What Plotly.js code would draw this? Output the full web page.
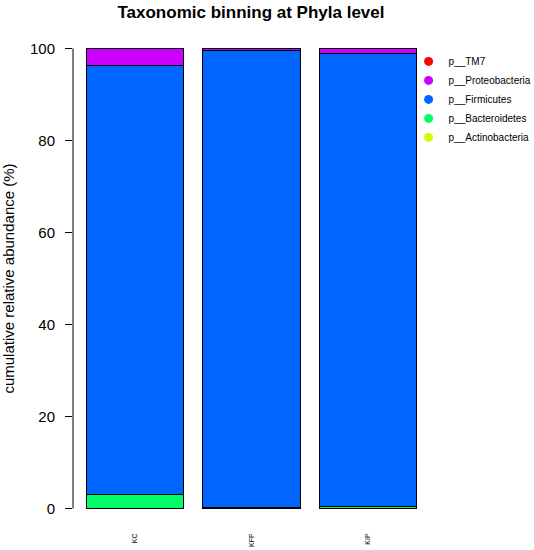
<!DOCTYPE html>
<html>
<head>
<meta charset="utf-8">
<script src="https://cdn.plot.ly/plotly-3.0.1.min.js"></script>
<style>
  html, body { margin: 0; padding: 0; background: #fff; }
  #grafik { width: 534px; height: 550px; }
</style>
</head>
<body>
<div id="grafik"></div>
<script>
// samples and phyla
const samples = ["KC", "KFP", "KIP"];
const phyla = ["p__Actinobacteria", "p__Bacteroidetes", "p__Firmicutes", "p__Proteobacteria", "p__TM7"];
const colours = ["#CCFF00", "#00FF66", "#0066FF", "#CC00FF", "#FF0000"];

// relative abundance (%) per sample, one array per phylum
const actinobacteria = [0.1, 0.1, 0.1];
const bacteroidetes = [2.9, 0.2, 0.3];
const firmicutes = [93.2, 99.3, 98.5];
const proteobacteria = [3.8, 0.4, 1.1];
const tm7 = [0.0, 0.0, 0.0];

const yTicks = [0, 20, 40, 60, 80, 100];

const values = [actinobacteria, bacteroidetes, firmicutes, proteobacteria, tm7];
const font = "Liberation Sans, Arial, Helvetica, sans-serif";

const data = [];
// stacked bars
for (let i = 0; i < phyla.length; i++) {
    data.push({
        type: "bar",
        x: samples,
        y: values[i],
        name: phyla[i],
        marker: { color: colours[i], line: { color: "#000", width: 1 } },
        showlegend: false,
        hoverinfo: "x+y+name"
    });
}
// legend entries with round dots, top one first
for (let i = phyla.length - 1; i >= 0; i--) {
    data.push({
        type: "scatter",
        mode: "markers",
        x: [null],
        y: [null],
        name: phyla[i],
        marker: { color: colours[i], size: 9, symbol: "circle" },
        showlegend: true
    });
}

const layout = {
    width: 534,
    height: 550,
    margin: { l: 73, r: 104, t: 30, b: 23, autoexpand: false },
    paper_bgcolor: "#fff",
    plot_bgcolor: "#fff",
    barmode: "stack",
    bargap: 0.1667,
    font: { family: font, color: "#000" },
    title: {
        text: "<b>Taxonomic binning at Phyla level</b>",
        font: { size: 17, family: font, color: "#000" },
        x: 0.47, xanchor: "center",
        y: 0.978, yanchor: "middle"
    },
    xaxis: {
        range: [-0.53, 2.53],
        showline: false,
        showgrid: false,
        zeroline: false,
        ticks: "",
        tickangle: -90,
        tickfont: { size: 7, family: font },
        ticklabelstandoff: 4,
        fixedrange: true
    },
    yaxis: {
        range: [-4, 104],
        tickvals: yTicks,
        ticktext: yTicks.map(String),
        ticks: "outside",
        ticklen: 7,
        tickcolor: "#000",
        tickwidth: 1,
        showline: false,
        showgrid: false,
        zeroline: false,
        tickfont: { size: 15, family: font },
        ticklabelstandoff: 7,
        title: { text: "cumulative relative abundance (%)", font: { size: 15, family: font }, standoff: 16 },
        fixedrange: true
    },
    shapes: [{
        type: "line",
        xref: "paper", x0: 0, x1: 0,
        yref: "y", y0: 0, y1: 100,
        line: { color: "#000", width: 1 }
    }],
    legend: {
        x: 0.94, xanchor: "left",
        y: 0.966, yanchor: "top",
        traceorder: "normal",
        font: { size: 10, family: font },
        bgcolor: "rgba(0,0,0,0)",
        itemwidth: 30,
        tracegroupgap: 0
    },
    showlegend: true
};

Plotly.newPlot("grafik", data, layout, { displayModeBar: false, staticPlot: true });
</script>
</body>
</html>
